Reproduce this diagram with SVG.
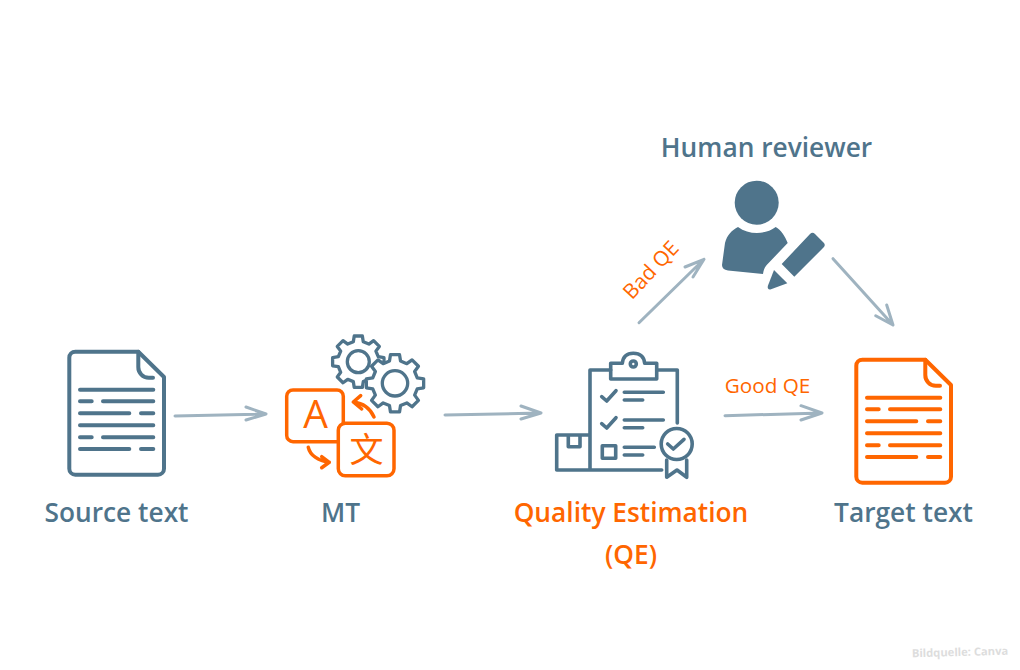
<svg xmlns="http://www.w3.org/2000/svg" width="1020" height="670" viewBox="0 0 1020 670">
<style>
.title{font-family:"Open Sans","Liberation Sans",sans-serif;font-size:26.300px;font-weight:600;text-anchor:middle}
.small{font-family:"Open Sans","Liberation Sans",sans-serif;font-size:20.700px;fill:#ff6600;text-anchor:middle}
.blue{fill:#4f748b}.orange{fill:#ff6600}
.ln{fill:none;stroke-linecap:round;stroke-linejoin:round}
.sb{stroke:#4f748b}.so{stroke:#ff6600}
.arrow{fill:none;stroke:#9fb3c0;stroke-width:3;stroke-linecap:round;stroke-linejoin:round}
</style>
<defs>
<g id="doc">
<path d="M75 351.7H138.3L164 377V468.7a6 6 0 0 1-6 6H75.300a6 6 0 0 1-6-6V357.700a6 6 0 0 1 6-6Z" stroke-width="4"/>
<path d="M138.300 351.700V367a10.500 10.500 0 0 0 10.500 10.700H153" stroke-width="4"/>
<path d="M80 389.700H153.300M80 401.300H91.700M103 401.300H153.300M80 413.300H129.300M141 413.300H153.300M80 425.300H153.300M80 437.300H91.700M103 437.300H153.300M80 449H129.300M141 449H153.300" stroke-width="4"/>
</g>
<path id="gearShape" stroke="#4f748b" stroke-width="3.300" stroke-linejoin="round" vector-effect="non-scaling-stroke" d="M-19.100-76.700L-15.600-98.800L15.600-98.800L19.100-76.700L40.700-67.700L58.800-80.900L80.900-58.800L67.700-40.700L76.700-19.100L98.800-15.600L98.800 15.600L76.700 19.100L67.700 40.700L80.900 58.800L58.800 80.900L40.700 67.700L19.100 76.700L15.600 98.800L-15.600 98.800L-19.100 76.700L-40.700 67.700L-58.800 80.900L-80.900 58.800L-67.700 40.700L-76.700 19.100L-98.800 15.600L-98.800-15.600L-76.700-19.100L-67.700-40.700L-80.900-58.800L-58.800-80.900L-40.700-67.700Z"/>
</defs>
<rect width="1020" height="670" fill="#fff"/>
<g id="connectors">
<path class="arrow" d="M175 416L266 414M246 407L266 414L246 420"/>
<path class="arrow" d="M445 415L541 413M521 406L541 413L521 419"/>
<path class="arrow" d="M725 415.700L822 413M801 405.700L822 413L801 420"/>
<path class="arrow" d="M639 322.700L704 259.300M685 267L704 259.300L693 277"/>
<path class="arrow" d="M833 258.700L893 325M875.700 315.700L893 325L886.700 305"/>
</g>
<g id="source-text">
<use href="#doc" class="ln sb"/>
<text class="title blue" x="116.500" y="522">Source text</text>
</g>
<g id="mt">
<use href="#gearShape" transform="translate(358.300 361.700) scale(.26)" fill="none"/>
<circle cx="358.300" cy="361.700" r="11" fill="none" stroke="#4f748b" stroke-width="3.300"/>
<use href="#gearShape" transform="translate(395 383.300) scale(.29)" fill="#fff"/>
<circle cx="395" cy="383.300" r="12.700" fill="none" stroke="#4f748b" stroke-width="3.300"/>
<path class="ln so" stroke-width="3.500" d="M338 441.700H293a6.300 6.300 0 0 1-6.300-6.300V396.300a6.300 6.300 0 0 1 6.300-6.300H337a6.300 6.300 0 0 1 6.300 6.300V423.300"/>
<rect x="338.300" y="423.300" width="55.700" height="52.400" rx="7" fill="#fff" stroke="#ff6600" stroke-width="3.500"/>
<path class="ln so" stroke-width="3.500" d="M374 417C370 408 362 403 353.300 402M360.700 395.700L353.300 402L361.700 409M308.300 447.300C310 455 318 461 329.300 462.300M321.700 456.700L329.300 462.300L321.700 467.700"/>
<text x="315.500" y="428" font-family="Open Sans,Liberation Sans,sans-serif" font-size="39" text-anchor="middle" class="orange">A</text>
<text x="366.500" y="462" font-family="Noto Sans CJK SC,sans-serif" font-size="34" text-anchor="middle" class="orange">文</text>
<text class="title blue" x="340.500" y="522">MT</text>
</g>
<g id="quality-estimation">
<g class="ln sb" stroke-width="3.600">
<path d="M610.700 370H590V470M656.700 370H677.300V423M556.700 470H661.700M556.700 470V435H590M568.300 435V446.700H580V435"/>
<path d="M610.700 363.300H622.300C623 357 627 353.300 633.300 353.300C640 353.300 644 357 644.700 363.300H656.700V379H610.700Z"/>
<circle cx="633.300" cy="364" r="3"/>
<path d="M601.700 396.700L606.700 401L616 390.700M624.300 392.300H663.300M624.300 400H642.700M601.700 423.700L606.700 428L616 417.700M624.300 420H663.300M624.300 427.700H642.700M624.300 447.300H654.300M624.300 455H642.700"/>
<rect x="602.300" y="445.700" width="13.400" height="12.600"/>
<circle cx="676.700" cy="444" r="15.500"/>
<path d="M667.700 444L673.300 449L684 439.300M666.700 460V477.300L677 470L686.700 477.300V460"/>
</g>
<text class="title orange" x="631" y="522">Quality Estimation</text>
<text class="title orange" x="631" y="564">(QE)</text>
</g>
<g id="human-reviewer">
<text class="title blue" x="766.500" y="157">Human reviewer</text>
<circle class="blue" cx="756.700" cy="202.700" r="22"/>
<path class="blue" d="M738 227C749 235 765 235 775.700 227C781 230 785 236 787.700 243L766.700 265C764 268 763.500 271 763 274L728 270.500C724 270 722 268 722 265L725 243C727 235 732 230 738 227Z"/>
<path class="blue" d="M810 234a3.500 3.500 0 0 1 5 0L823.500 242.500a3.500 3.500 0 0 1 0 5L794.300 276.700L781.700 264Z"/>
<path class="blue" d="M774 270L787.300 283.300L771 289.300C768.500 290 767.300 288.500 767.800 286Z"/>
</g>
<g id="target-text">
<use href="#doc" class="ln so" transform="translate(787 8)"/>
<text class="title blue" x="903.500" y="522">Target text</text>
</g>
<g id="edge-labels">
<text class="small" x="767.500" y="393">Good QE</text>
<text class="small" x="651" y="277" transform="rotate(-47 651 270)">Bad QE</text>
</g>
<text id="credit" x="960" y="656" font-family="Open Sans,Liberation Sans,sans-serif" font-size="11.200" font-weight="700" fill="#dddddd" text-anchor="middle" transform="rotate(-1.500 960 652)">Bildquelle: Canva</text>
</svg>
